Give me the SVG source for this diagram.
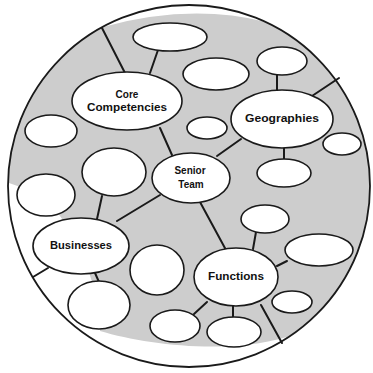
<svg xmlns="http://www.w3.org/2000/svg" width="373" height="373" viewBox="0 0 373 373">
<style>
.n ellipse{fill:#fff;stroke:#1a1a1a;stroke-width:1.6}
.c line,.c polyline{stroke:#1a1a1a;stroke-width:2;fill:none;stroke-linecap:round}
text{font-family:"Liberation Sans",Arial,sans-serif;font-weight:bold;font-size:10px;fill:#111;text-anchor:middle}
</style>
<defs>
<clipPath id="disc"><circle cx="189" cy="186" r="181"/></clipPath>
</defs>
<rect width="373" height="373" fill="#fff"/>
<g id="field" clip-path="url(#disc)">
<path d="M -10,183 L 9,183 L 46,196 L 81,246 L 99,305 L 100,331 C 150,346 240,356 298,333 L 390,333 L 390,10 L 266,22 Q 190,3 103,27 L -10,27 Z" fill="#cdcdcd"/>
</g>
<circle id="boundary" cx="189" cy="186" r="181" fill="none" stroke="#1a1a1a" stroke-width="1.8"/>
<g id="connectors" class="c">
<line x1="102" y1="28" x2="125" y2="73"/>
<line x1="150" y1="73" x2="158" y2="50"/>
<line x1="277" y1="74" x2="277" y2="91"/>
<line x1="312" y1="96" x2="339" y2="78"/>
<line x1="284" y1="147" x2="284" y2="160"/>
<line x1="241" y1="139" x2="217" y2="156"/>
<line x1="160" y1="128" x2="172" y2="155"/>
<line x1="160" y1="195" x2="117" y2="221"/>
<line x1="102" y1="196" x2="97" y2="219"/>
<line x1="200" y1="202" x2="226" y2="250"/>
<line x1="253" y1="249" x2="256" y2="232"/>
<line x1="277" y1="266" x2="287" y2="261"/>
<line x1="261" y1="305" x2="282" y2="343"/>
<line x1="207" y1="302" x2="194" y2="314"/>
<line x1="233" y1="305" x2="233" y2="318"/>
<line x1="95" y1="273" x2="99" y2="282"/>
<line x1="33" y1="277" x2="48" y2="268"/>
</g>
<g class="n">
<g id="n1"><ellipse cx="170" cy="37" rx="37" ry="14"/></g>
<g id="n2"><ellipse cx="216" cy="74" rx="33" ry="16"/></g>
<g id="n3"><ellipse cx="282" cy="61" rx="25" ry="14"/></g>
<g id="core"><ellipse cx="127" cy="101" rx="55" ry="29"/><text x="127" y="98">Core</text><text x="127" y="111" textLength="80" lengthAdjust="spacingAndGlyphs">Competencies</text></g>
<g id="geo"><ellipse cx="282" cy="119" rx="51" ry="29"/><text x="282" y="122" textLength="74" lengthAdjust="spacingAndGlyphs">Geographies</text></g>
<g id="n6"><ellipse cx="51" cy="131" rx="26" ry="16"/></g>
<g id="n7"><ellipse cx="207" cy="128" rx="20" ry="11"/></g>
<g id="n8"><ellipse cx="342" cy="144" rx="19" ry="11"/></g>
<g id="n9"><ellipse cx="284" cy="173" rx="27" ry="14"/></g>
<g id="senior"><ellipse cx="191" cy="178" rx="39" ry="25"/><text x="190" y="174">Senior</text><text x="191" y="188">Team</text></g>
<g id="n11"><ellipse cx="114" cy="172" rx="32" ry="24"/></g>
<g id="n12"><ellipse cx="46" cy="195" rx="29" ry="21"/></g>
<g id="businesses"><ellipse cx="81" cy="246" rx="48" ry="28"/><text x="81" y="249" textLength="62" lengthAdjust="spacingAndGlyphs">Businesses</text></g>
<g id="n14"><ellipse cx="157" cy="270" rx="27" ry="25"/></g>
<g id="n15"><ellipse cx="99" cy="305" rx="31" ry="24"/></g>
<g id="n16"><ellipse cx="175" cy="326" rx="25" ry="16"/></g>
<g id="n17"><ellipse cx="234" cy="332" rx="27" ry="15"/></g>
<g id="functions"><ellipse cx="236" cy="277" rx="42" ry="29"/><text x="236" y="280" textLength="56" lengthAdjust="spacingAndGlyphs">Functions</text></g>
<g id="n19"><ellipse cx="265" cy="219" rx="24" ry="14"/></g>
<g id="n20"><ellipse cx="319" cy="250" rx="34" ry="16"/></g>
<g id="n21"><ellipse cx="292" cy="302" rx="20" ry="11"/></g>
</g>
</svg>
